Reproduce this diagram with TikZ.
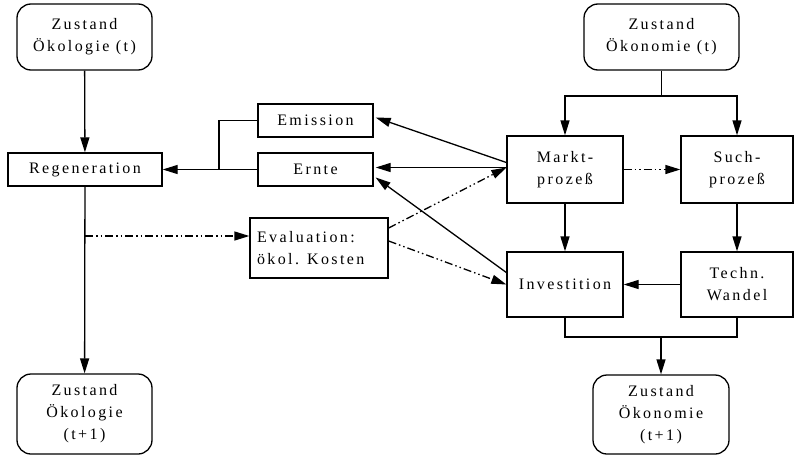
\documentclass[tikz,border=0pt]{standalone}
\usepackage{fontspec}
\setmainfont{Liberation Serif}[LetterSpace=15]
\usetikzlibrary{arrows.meta}
\begin{document}
\begin{tikzpicture}[x=1pt,y=-1pt,
  every node/.style={font=\fontsize{16}{22}\selectfont, line width=1.3pt, inner sep=0pt},
  box/.style={draw, rectangle, align=center},
  state/.style={draw, rounded corners=14pt, align=center},
  conn/.style={line width=1.3pt},
  arr/.style={conn, -{Triangle[length=15pt,width=9pt]}},
  dda/.style={arr, dash pattern=on 8pt off 3pt on 1.5pt off 3pt on 1.5pt off 3pt}]
\useasboundingbox (0,0) rectangle (794,455);
% nodes
\node[state, minimum width=135pt, minimum height=66pt] (zol) at (84.5,37) {Zustand\\Ökologie (t)};
\node[box, minimum width=154pt, minimum height=33pt] (regen) at (85,169.5) {Regeneration};
\node[box, minimum width=115pt, minimum height=33pt] (emis) at (315.5,120.5) {Emission};
\node[box, minimum width=115pt, minimum height=33pt] (ernte) at (315.5,169.5) {Ernte};
\node[box, minimum width=138pt, minimum height=60pt, align=left, text width=124pt] (eval) at (319,248) {Evaluation:\\ökol. Kosten};
\node[state, minimum width=155pt, minimum height=66pt] (zon) at (661.5,37) {Zustand\\Ökonomie (t)};
\node[box, minimum width=116pt, minimum height=67pt] (markt) at (565,169.5) {Markt-\\prozeß};
\node[box, minimum width=112pt, minimum height=67pt] (such) at (737,169.5) {Such-\\prozeß};
\node[box, minimum width=116pt, minimum height=65pt] (invest) at (565,284.5) {Investition};
\node[box, minimum width=112pt, minimum height=65pt] (techn) at (737,284.5) {Techn.\\Wandel};
\node[state, minimum width=135pt, minimum height=80pt] (zol1) at (84.5,414) {Zustand\\Ökologie\\(t+1)};
\node[state, minimum width=136pt, minimum height=79pt] (zon1) at (661,414.5) {Zustand\\Ökonomie\\(t+1)};
% coordinates
\coordinate (join) at (219,169.5);
\coordinate (top) at (661.5,96);
\coordinate (bot) at (661,337);
\coordinate (evalin) at ([yshift=12pt]eval.west);
% connectors
\draw[arr] (zol) -- (regen);
\draw[arr] (regen) -- (zol1);
\draw[conn] (emis.west) -| (join);
\draw[arr] (ernte.west) -- (regen.east);
\draw[dda] (regen.south |- evalin) -- (evalin);
\draw[arr] ([yshift=7pt]markt.west) -- ([xshift=2pt,yshift=3pt]emis.east);
\draw[arr] ([yshift=2pt]markt.west) -- ([xshift=2pt,yshift=2pt]ernte.east);
\draw[arr] ([yshift=12pt]invest.west) -- ([xshift=2pt,yshift=-8pt]ernte.east);
\draw[dda] ([yshift=20pt]eval.east) -- ([yshift=2pt]markt.west);
\draw[dda] ([yshift=7pt]eval.east) -- (invest.west);
\draw[dda] (markt.east) -- (such.west);
\draw[conn] (zon.south) -- (top);
\draw[arr] (top) -| (markt.north);
\draw[arr] (top) -| (such.north);
\draw[arr] (markt) -- (invest);
\draw[arr] (such) -- (techn);
\draw[arr] (techn) -- (invest);
\draw[conn] (invest.south) |- (bot) -| (techn.south);
\draw[arr] (bot) -- (zon1.north);
\end{tikzpicture}
\end{document}
